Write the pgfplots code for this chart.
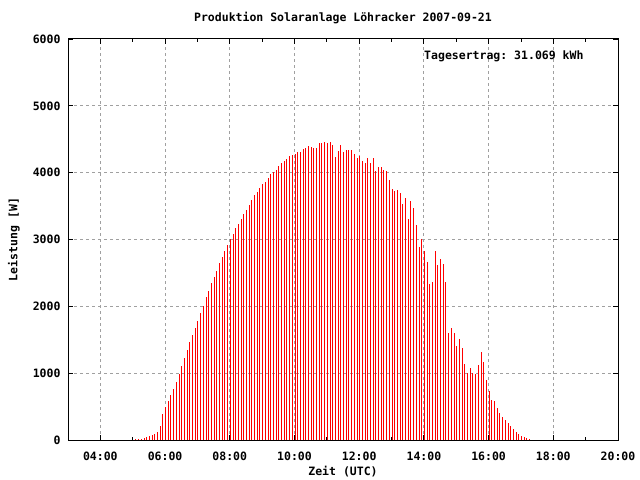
\documentclass[border=0pt]{standalone}
\usepackage{pgfplots}
\pgfplotsset{compat=1.18}
\usepackage{fontspec}
\setmonofont{DejaVu Sans Mono}
\newcommand\gfont{\fontsize{11.5bp}{13bp}\selectfont\ttfamily\bfseries}
\definecolor{gridgray}{RGB}{160,160,160}
\begin{document}
\begin{tikzpicture}
\useasboundingbox (-68bp,-40bp) rectangle (572bp,440bp);
\begin{axis}[
  scale only axis, width=550bp, height=401bp,
  at={(0,0)}, anchor=south west,
  xmin=180, xmax=1200, ymin=0, ymax=6000,
  xtick={240,360,480,600,720,840,960,1080,1200},
  xticklabels={04:00,06:00,08:00,10:00,12:00,14:00,16:00,18:00,20:00},
  minor xtick={300,420,540,660,780,900,1020,1140},
  ytick={0,1000,2000,3000,4000,5000,6000},
  scaled y ticks=false,
  /pgf/number format/1000 sep={},
  /pgf/number format/assume math mode=true,
  tick label style={font=\gfont},
  yticklabel style={xshift=-4bp},
  xticklabel style={yshift=-8bp},
  tick align=inside,
  major tick length=5bp, minor tick length=3bp,
  tick style={black, line width=0.8bp},
  axis line style={black, line width=1bp},
  grid=major,
  major grid style={gridgray, line width=1bp, dash pattern=on 3bp off 3bp},
  clip=false,
]
\addplot[black, ycomb, line width=1bp, mark=none] coordinates {(300,35) (960,65)};
\addplot[red, ycomb, line width=1bp, mark=none] table {
x y
306 10
311 10
316 15
321 35
326 50
331 65
336 80
341 95
346 120
351 210
356 390
361 500
366 585
371 675
376 760
381 870
386 990
391 1110
396 1230
401 1350
406 1460
411 1570
416 1677
421 1781
426 1901
431 2006
436 2141
441 2231
446 2351
451 2440
456 2530
461 2650
466 2740
471 2830
476 2919
481 3009
486 3084
491 3174
496 3234
501 3308
506 3383
511 3443
516 3518
521 3593
526 3668
531 3712
536 3772
541 3832
546 3867
551 3922
556 3982
561 4012
566 4042
571 4102
576 4147
581 4177
586 4206
591 4251
596 4266
601 4281
606 4311
611 4311
616 4356
621 4371
626 4401
631 4386
636 4371
641 4371
646 4446
651 4446
656 4461
661 4446
666 4461
671 4416
676 4236
681 4326
686 4416
691 4311
696 4341
701 4341
706 4341
711 4281
716 4221
721 4251
726 4177
731 4147
736 4221
741 4147
746 4221
751 4027
756 4087
761 4087
766 4042
771 4027
776 3892
781 3757
786 3727
791 3742
796 3697
801 3533
806 3623
811 3308
816 3578
821 3473
826 3219
831 2889
836 3009
841 2830
846 2665
851 2335
856 2365
861 2830
866 2620
871 2710
876 2635
881 2365
886 1602
891 1677
896 1602
901 1407
906 1512
911 1377
916 1138
921 1003
926 1078
931 1003
936 988
941 1123
946 1317
951 1168
956 898
961 733
966 599
971 584
976 479
981 404
986 344
991 299
996 254
1001 210
1006 165
1011 120
1016 90
1021 60
1026 45
1031 30
1036 15
};
\node[font=\gfont, yshift=21bp] at (rel axis cs:0.5,1) {Produktion Solaranlage Löhracker 2007-09-21};
\node[font=\gfont, yshift=-32bp] at (rel axis cs:0.5,0) {Zeit (UTC)};
\node[xshift=-54bp, rotate=90, font=\gfont] at (rel axis cs:0,0.5) {Leistung [W]};
\node[font=\gfont, anchor=east, xshift=-31bp, yshift=-17bp] at (rel axis cs:1,1) {Tagesertrag: 31.069 kWh};
\end{axis}
\end{tikzpicture}
\end{document}
